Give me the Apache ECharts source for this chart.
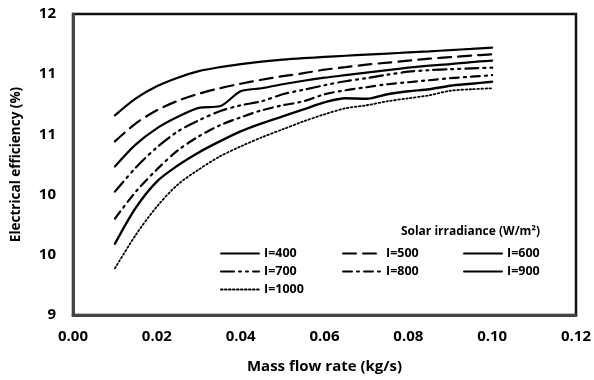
<!DOCTYPE html>
<html>
<head>
<meta charset="utf-8">
<script src="https://cdn.jsdelivr.net/npm/echarts@6/dist/echarts.min.js"></script>
<style>
html,body{margin:0;padding:0;background:#fff;}
#c{width:594px;height:380px;}
</style>
</head>
<body>
<div id="c"></div>
<script>
const massFlow = [0.010, 0.015, 0.020, 0.025, 0.030, 0.035, 0.040, 0.045, 0.050, 0.055, 0.060, 0.065, 0.070, 0.075, 0.080, 0.085, 0.090, 0.095, 0.100];
const seriesNames = ['I=400', 'I=500', 'I=600', 'I=700', 'I=800', 'I=900', 'I=1000'];
const eff400  = [10.99, 11.16, 11.28, 11.365, 11.43, 11.47, 11.50, 11.525, 11.545, 11.56, 11.572, 11.584, 11.595, 11.606, 11.617, 11.628, 11.64, 11.652, 11.665];
const eff500  = [10.73, 10.91, 11.04, 11.135, 11.205, 11.26, 11.305, 11.345, 11.38, 11.41, 11.445, 11.47, 11.495, 11.515, 11.535, 11.555, 11.57, 11.585, 11.598];
const eff600  = [10.48, 10.70, 10.86, 10.975, 11.065, 11.08, 11.23, 11.26, 11.30, 11.335, 11.365, 11.39, 11.415, 11.44, 11.465, 11.485, 11.50, 11.52, 11.535];
const eff700  = [10.23, 10.47, 10.67, 10.83, 10.94, 11.03, 11.09, 11.13, 11.20, 11.245, 11.29, 11.33, 11.36, 11.395, 11.425, 11.44, 11.45, 11.458, 11.465];
const eff800  = [9.96, 10.23, 10.45, 10.64, 10.78, 10.89, 10.97, 11.04, 11.09, 11.13, 11.20, 11.24, 11.27, 11.30, 11.32, 11.34, 11.36, 11.375, 11.39];
const eff900  = [9.71, 10.07, 10.33, 10.49, 10.62, 10.73, 10.83, 10.91, 10.98, 11.05, 11.12, 11.16, 11.155, 11.20, 11.23, 11.25, 11.285, 11.305, 11.325];
const eff1000 = [9.465, 9.80, 10.08, 10.30, 10.45, 10.58, 10.68, 10.77, 10.85, 10.93, 11.00, 11.06, 11.09, 11.13, 11.16, 11.19, 11.235, 11.25, 11.26];
const xTicks = {min: 0, max: 0.12, interval: 0.02};
const yTicks = {min: 9, max: 12, interval: 0.6};

const allEff = [eff400, eff500, eff600, eff700, eff800, eff900, eff1000];
const styles = [
  {type: 'solid', width: 2.2},
  {type: [13, 7], width: 2.2},
  {type: 'solid', width: 2.2},
  {type: [13, 5, 2, 5, 2, 5], width: 2.2},
  {type: [9, 5, 2, 5], width: 2.2},
  {type: 'solid', width: 2.4},
  {type: [1.6, 2.4], width: 1.8}
];
const FONT = '"Open Sans", "Liberation Sans", sans-serif';

const chart = echarts.init(document.getElementById('c'), null, {renderer: 'canvas'});
const series = seriesNames.map((n, i) => ({
  name: n,
  type: 'line',
  data: massFlow.map((x, j) => [x, allEff[i][j]]),
  smooth: 0.3,
  symbol: 'none',
  showSymbol: false,
  lineStyle: Object.assign({color: '#000', cap: 'round'}, styles[i]),
  itemStyle: {color: '#000'}
}));

function legendCol(names, left) {
  return {
    data: names,
    orient: 'vertical',
    left: left,
    top: 247,
    padding: 0,
    itemWidth: 38,
    itemHeight: 14,
    itemGap: 5,
    itemStyle: {opacity: 0},
    textStyle: {fontFamily: FONT, fontWeight: 'bold', fontSize: 12.5, color: '#000'}
  };
}

chart.setOption({
  animation: false,
  backgroundColor: '#fff',
  grid: {left: 73, right: 13, top: 14, bottom: 65, show: true, borderColor: '#111', borderWidth: 2.5, backgroundColor: 'transparent'},
  title: {
    text: 'Solar irradiance (W/m²)',
    right: 49,
    top: 221,
    textStyle: {fontFamily: FONT, fontWeight: 'bold', fontSize: 12, color: '#000'}
  },
  legend: [
    legendCol(['I=400', 'I=700', 'I=1000'], 220),
    legendCol(['I=500', 'I=800'], 342),
    legendCol(['I=600', 'I=900'], 463)
  ],
  xAxis: {
    type: 'value',
    min: xTicks.min, max: xTicks.max, interval: xTicks.interval,
    name: 'Mass flow rate (kg/s)',
    nameLocation: 'middle',
    nameGap: 44,
    nameTextStyle: {fontFamily: FONT, fontWeight: 'bold', fontSize: 15, color: '#000'},
    axisLine: {show: true, lineStyle: {color: '#444', width: 3}},
    axisTick: {show: false},
    splitLine: {show: false},
    axisLabel: {fontFamily: FONT, fontWeight: 'bold', fontSize: 15, color: '#000', margin: 14, formatter: v => v.toFixed(2)}
  },
  yAxis: {
    type: 'value',
    min: yTicks.min, max: yTicks.max, interval: yTicks.interval,
    name: 'Electrical efficiency (%)',
    nameLocation: 'middle',
    nameGap: 50,
    nameTextStyle: {fontFamily: FONT, fontWeight: 'bold', fontSize: 13.5, color: '#000'},
    axisLine: {show: true, lineStyle: {color: '#444', width: 3}},
    axisTick: {show: false},
    splitLine: {show: false},
    axisLabel: {fontFamily: FONT, fontWeight: 'bold', fontSize: 15, color: '#000', margin: 17, formatter: v => String(Math.round(v))}
  },
  series: series
});
</script>
</body>
</html>
